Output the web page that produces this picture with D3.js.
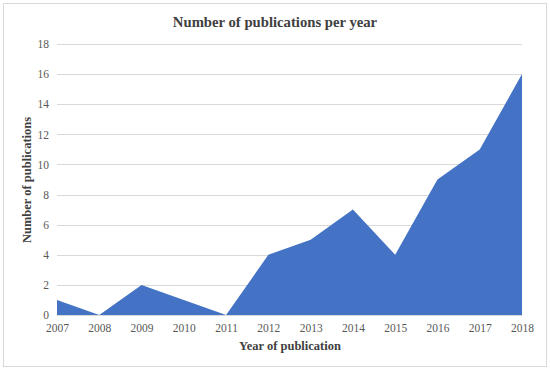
<!DOCTYPE html>
<html>
<head>
<meta charset="utf-8">
<script src="https://cdn.jsdelivr.net/npm/d3@7"></script>
<style>
  body { margin: 0; background: #fff; }
  svg { display: block; font-family: "Liberation Serif", "DejaVu Serif", serif; }
</style>
</head>
<body>
<svg id="chart" width="550" height="371"></svg>
<script>
// data
var years = [2007, 2008, 2009, 2010, 2011, 2012, 2013, 2014, 2015, 2016, 2017, 2018];
var counts = [1, 0, 2, 1, 0, 4, 5, 7, 4, 9, 11, 16];
var yTicks = [0, 2, 4, 6, 8, 10, 12, 14, 16, 18];

var svg = d3.select("#chart");
var W = 550, H = 371;
var margin = {left: 57, right: 28, top: 44, bottom: 56};

// outer frame
svg.append("rect")
    .attr("x", 3.5).attr("y", 3.5)
    .attr("width", 543).attr("height", 363)
    .attr("fill", "#fff")
    .attr("stroke", "#d9d9d9")
    .attr("stroke-width", 1);

var x = d3.scalePoint()
    .domain(years)
    .range([margin.left, W - margin.right]);

var y = d3.scaleLinear()
    .domain([0, 18])
    .range([H - margin.bottom, margin.top]);

// gridlines
svg.append("g")
    .selectAll("line")
    .data(yTicks)
    .join("line")
    .attr("x1", margin.left).attr("x2", W - margin.right)
    .attr("y1", function(d) { return Math.round(y(d)) + 0.5; })
    .attr("y2", function(d) { return Math.round(y(d)) + 0.5; })
    .attr("stroke", "#d9d9d9")
    .attr("stroke-width", 1);

// the area itself
var area = d3.area()
    .x(function(d, i) { return x(years[i]); })
    .y0(y(0))
    .y1(function(d) { return y(d); });

svg.append("path")
    .datum(counts)
    .attr("d", area)
    .attr("fill", "#4472c4");

// y axis labels
var yAxis = d3.axisLeft(y).tickValues(yTicks).tickSize(0).tickPadding(8);
svg.append("g")
    .attr("transform", "translate(" + margin.left + ",0)")
    .call(yAxis)
    .call(function(g) { g.select(".domain").remove(); })
    .selectAll("text")
    .attr("font-family", "Liberation Serif, serif")
    .attr("font-size", 11.5)
    .attr("fill", "#595959");

// x axis
var xAxis = d3.axisBottom(x).tickSize(0).tickPadding(9);
svg.append("g")
    .attr("transform", "translate(0," + (H - margin.bottom) + ")")
    .call(xAxis)
    .call(function(g) {
        g.select(".domain")
            .attr("stroke", "#d9d9d9");
    })
    .selectAll("text")
    .attr("font-family", "Liberation Serif, serif")
    .attr("font-size", 11.5)
    .attr("fill", "#595959");

// title and axis titles
svg.append("text")
    .attr("x", 275).attr("y", 27)
    .attr("text-anchor", "middle")
    .attr("font-size", 14.7)
    .attr("font-weight", "bold")
    .attr("fill", "#404040")
    .text("Number of publications per year");

svg.append("text")
    .attr("x", 290).attr("y", 350)
    .attr("text-anchor", "middle")
    .attr("font-size", 12.5)
    .attr("font-weight", "bold")
    .attr("fill", "#404040")
    .text("Year of publication");

svg.append("text")
    .attr("transform", "translate(31,180) rotate(-90)")
    .attr("text-anchor", "middle")
    .attr("font-size", 12.5)
    .attr("font-weight", "bold")
    .attr("fill", "#404040")
    .text("Number of publications");
</script>
</body>
</html>
